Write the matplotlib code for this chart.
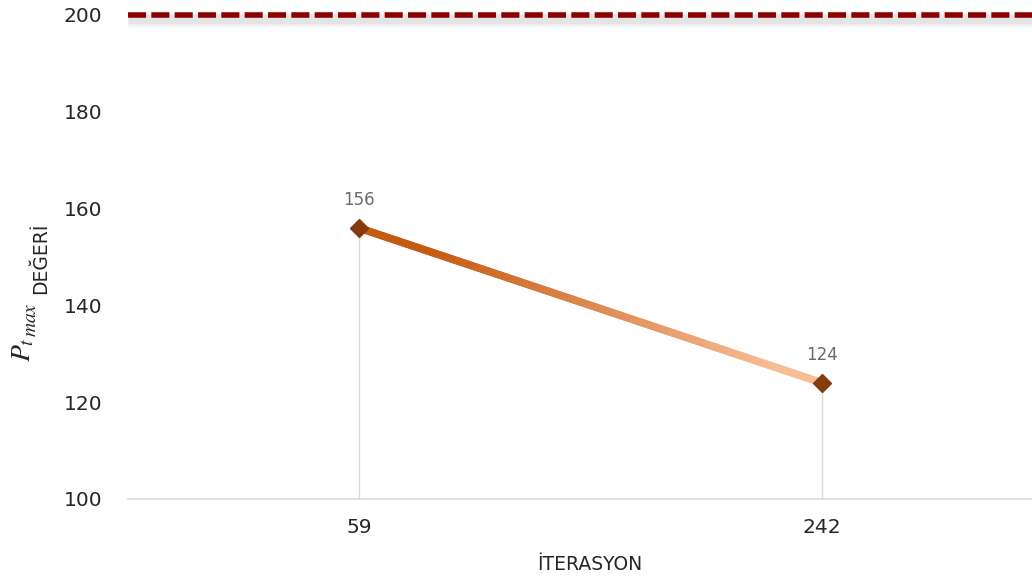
import numpy as np
import matplotlib
matplotlib.use("Agg")
import matplotlib.pyplot as plt
from matplotlib.collections import LineCollection
from matplotlib.colors import to_rgb

# data
iterations = ["59", "242"]
pt_values = [156, 124]
limit_value = 200
y_ticks = [100, 120, 140, 160, 180, 200]

plt.rcParams['font.family'] = ['DejaVu Sans']
plt.rcParams['mathtext.fontset'] = 'stix'

W, H = 1032, 583
fig = plt.figure(figsize=(W / 100, H / 100), dpi=100)
# category bins: 59 at x=359, 242 at x=822 -> axes spans 127.5..1053.5 px
left = 127.5 / W
width = (1053.5 - 127.5) / W
bottom = (H - 499) / H
height = (499 - 15) / H
ax = fig.add_axes([left, bottom, width, height])

xs = np.arange(len(iterations))
ax.set_xlim(-0.5, len(iterations) - 0.5)
ax.set_ylim(100, 200)

# drop lines
for x, v in zip(xs, pt_values):
    ax.plot([x, x], [100, v], color="#D9D9D9", lw=1, zorder=1)

# gradient line
n = 200
t = np.linspace(0, 1, n + 1)
px = xs[0] + (xs[1] - xs[0]) * t
py = pt_values[0] + (pt_values[1] - pt_values[0]) * t
segs = np.stack([np.column_stack([px[:-1], py[:-1]]), np.column_stack([px[1:], py[1:]])], axis=1)
c0 = np.array(to_rgb("#C55A11"))
c1 = np.array(to_rgb("#F7BD96"))
tm = (t[:-1] + t[1:]) / 2
ramp = np.clip((tm - 0.15) / 0.75, 0, 1)
cols = c0[None, :] * (1 - ramp[:, None]) + c1[None, :] * ramp[:, None]
lc = LineCollection(segs, colors=cols, linewidths=5.5, capstyle="round", zorder=3)
ax.add_collection(lc)

ax.plot(xs, pt_values, linestyle="none", marker="D", markersize=9.5,
        color="#843C0C", zorder=4)

for x, v in zip(xs, pt_values):
    ax.annotate(str(v), (x, v), xytext=(0, 20), textcoords="offset points",
                ha="center", va="center", fontsize=12, color="#6B6B6B")

# limit line with soft shadow
for w, a in [(12, 0.05), (9, 0.07), (6.5, 0.09)]:
    ax.plot([-0.5, 1.5], [limit_value - 0.9, limit_value - 0.9], color="#7F7F7F",
            lw=w, alpha=a, solid_capstyle="butt", clip_on=False, zorder=4)
ax.axhline(limit_value, color="#8B0000", lw=4, dashes=(3.25, 0.95), zorder=5,
           clip_on=False)

# axis styling
for s in ["left", "right", "top"]:
    ax.spines[s].set_visible(False)
ax.spines["bottom"].set_color("#D9D9D9")
ax.spines["bottom"].set_linewidth(1.2)
ax.set_xticks(xs)
ax.set_xticklabels(iterations, fontsize=14.5, color="#262626")
ax.set_yticks(y_ticks)
ax.set_yticklabels([str(v) for v in y_ticks], fontsize=14.5, color="#262626")
ax.tick_params(axis="both", length=0)
ax.tick_params(axis="y", pad=18)
ax.tick_params(axis="x", pad=14)

# y label: P_t_max in equation style + DEĞERİ
fig.text(41 / W, 1 - 294 / H, "DEĞERİ", rotation=90,
         ha="center", va="bottom", fontsize=13.5, color="#262626")
fig.text(36 / W, 1 - 362 / H, r"$P_t$", rotation=90,
         ha="right", va="bottom", fontsize=20, color="#262626")
fig.text(40 / W, 1 - 337 / H, r"$max$", rotation=90,
         ha="right", va="bottom", fontsize=14, color="#262626")
fig.text(590 / W, 1 - 565 / H, "İTERASYON", ha="center", va="center",
         fontsize=13.5, color="#262626")

fig.savefig("out.png", dpi=100)
